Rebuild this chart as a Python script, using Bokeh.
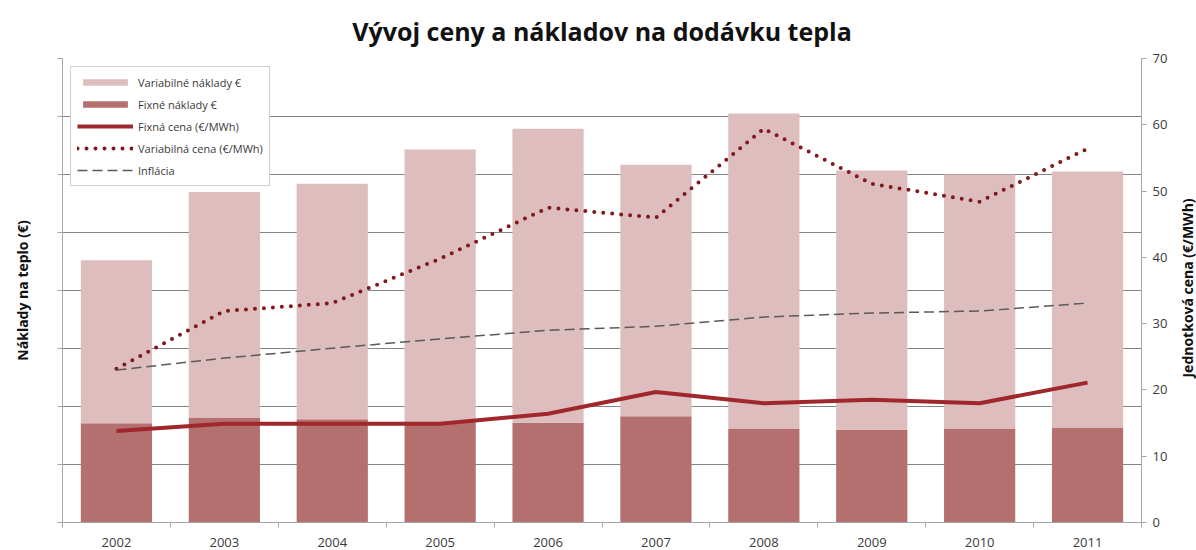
import math
from bokeh.plotting import figure
from bokeh.layouts import row
from bokeh.models import (Range1d, LinearAxis, FixedTicker, Legend, LegendItem,
                          ColumnDataSource, Title)
from bokeh.core.properties import value
from bokeh.embed import file_html
from bokeh.resources import INLINE

# ---------------- data ----------------
years = [2002, 2003, 2004, 2005, 2006, 2007, 2008, 2009, 2010, 2011]
fixed_costs = [171, 181, 178, 174, 172, 183, 162, 160, 162, 164]          # Fixné náklady (left axis units)
variable_costs = [281, 389, 406, 469, 507, 434, 543, 447, 438, 441]       # Variabilné náklady (left axis units)
fixed_price = [13.8, 14.9, 14.9, 14.9, 16.4, 19.7, 18.0, 18.5, 18.0, 21.1]      # €/MWh
variable_price = [23.2, 31.9, 33.1, 39.8, 47.5, 46.0, 59.4, 51.1, 48.4, 56.4]   # €/MWh
inflation = [23.0, 24.8, 26.3, 27.7, 29.0, 29.6, 31.0, 31.6, 31.9, 33.1]
left_ticks = [0, 100, 200, 300, 400, 500, 600, 700, 800]
right_ticks = [0, 10, 20, 30, 40, 50, 60, 70]

FONT = "Open Sans"
GRID = "#858585"
AXIS = "#a6a6a6"
TXT = "#3a3a3a"

src = ColumnDataSource(dict(year=years, fixed=fixed_costs, variable=variable_costs,
                            fprice=fixed_price, vprice=variable_price, infl=inflation))

p = figure(width=1170, height=550, output_backend="svg", toolbar_location=None,
           x_range=Range1d(years[0] - 0.5, years[-1] + 0.5),
           y_range=Range1d(left_ticks[0], left_ticks[-1]),
           min_border_left=62, min_border_right=29, min_border_top=57, min_border_bottom=28)
p.title = None
p.add_layout(Title(text="Vývoj ceny a nákladov na dodávku tepla", align="center",
                   text_font=FONT, text_font_size="25px", text_font_style="bold",
                   text_color="#111111", standoff=22), "above")
p.outline_line_color = None
p.background_fill_color = "white"
p.border_fill_color = "white"

p.extra_y_ranges = {"right": Range1d(right_ticks[0], right_ticks[-1])}

# bars
bars = p.vbar_stack(["fixed", "variable"], x="year", width=0.66, source=src,
                    color=["#b4706f", "#ddbdbd"], line_color=None)

# lines
l_fix = p.line("year", "fprice", source=src, y_range_name="right",
               line_color="#a0282d", line_width=4, line_join="round")
l_var = p.line("year", "vprice", source=src, y_range_name="right",
               line_color="#80191d", line_width=4, line_dash="0 9", line_cap="round")
l_inf = p.line("year", "infl", source=src, y_range_name="right",
               line_color="#5a5a5a", line_width=1.5, line_dash="10 5")

# x axis
xa = p.xaxis[0]
xa.ticker = FixedTicker(ticks=years, minor_ticks=[y - 0.5 for y in years] + [years[-1] + 0.5])
xa.major_tick_line_color = None
xa.minor_tick_line_color = AXIS
xa.minor_tick_in = 0
xa.minor_tick_out = 5
xa.axis_line_color = AXIS
xa.major_label_text_font = FONT
xa.major_label_text_font_size = "13px"
xa.major_label_text_color = TXT
xa.major_label_standoff = 9
p.xgrid.visible = False

# left axis: tick marks at the grid lines, no labels
ya = p.yaxis[0]
ya.ticker = FixedTicker(ticks=[], minor_ticks=left_ticks)
ya.major_tick_line_color = None
ya.minor_tick_in = 0
ya.minor_tick_out = 5
ya.minor_tick_line_color = AXIS
ya.axis_line_color = AXIS
ya.axis_label = "Náklady na teplo (€)"
ya.axis_label_text_font = FONT
ya.axis_label_text_font_size = "14px"
ya.axis_label_text_font_style = "bold"
ya.axis_label_text_color = "#111111"
ya.axis_label_standoff = 26
p.ygrid.ticker = FixedTicker(ticks=left_ticks)
p.ygrid.grid_line_color = GRID
p.ygrid.grid_line_width = 1

# right axis
ra = LinearAxis(y_range_name="right", ticker=FixedTicker(ticks=right_ticks))
ra.major_tick_in = 0
ra.major_tick_out = 5
ra.minor_tick_line_color = None
ra.major_tick_line_color = AXIS
ra.axis_line_color = AXIS
ra.major_label_text_font = FONT
ra.major_label_text_font_size = "13px"
ra.major_label_text_color = TXT
ra.major_label_standoff = 6
p.add_layout(ra, "right")

legend = Legend(items=[
    LegendItem(label="Variabilné náklady €", renderers=[bars[1]]),
    LegendItem(label="Fixné náklady €", renderers=[bars[0]]),
    LegendItem(label="Fixná cena (€/MWh)", renderers=[l_fix]),
    LegendItem(label="Variabilná cena (€/MWh)", renderers=[l_var]),
    LegendItem(label="Inflácia", renderers=[l_inf]),
], location="top_left")
legend.margin = 8
legend.padding = 6
legend.spacing = 4
legend.label_height = 18
legend.glyph_height = 8
legend.glyph_width = 56
legend.label_standoff = 5
legend.label_text_font = FONT
legend.label_text_font_size = "11px"
legend.label_text_color = TXT
legend.border_line_color = "#a0a0a0"
legend.border_line_width = 1
legend.background_fill_color = "white"
legend.background_fill_alpha = 1
p.add_layout(legend, "center")

# narrow strip on the right holding the right-axis title (reads bottom-to-top)
side = figure(width=26, height=550, output_backend="svg", toolbar_location=None,
              x_range=Range1d(0, 26), y_range=Range1d(0, 550), min_border=0)
side.axis.visible = False
side.grid.visible = False
side.outline_line_color = None
side.border_fill_color = "white"
side.text(x=[17], y=[278], text=["Jednotková cena (€/MWh)"], angle=math.pi / 2,
          text_align="center", text_baseline="middle",
          text_font=value(FONT), text_font_size="14px", text_font_style="bold",
          text_color="#111111")

layout = row(p, side, spacing=0)
open("out.html", "w").write(file_html(layout, INLINE))
